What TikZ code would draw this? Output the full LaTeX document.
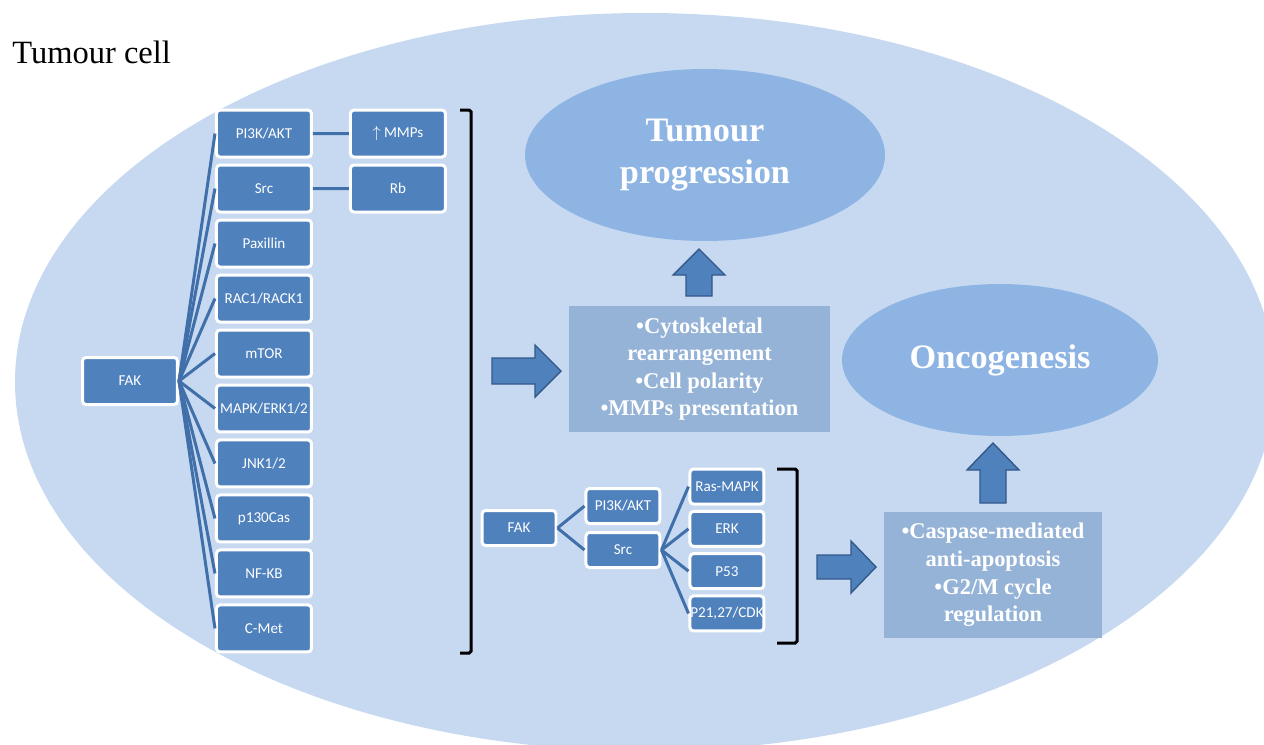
\documentclass[tikz,border=0pt]{standalone}
\usepackage{fontspec}
\setmainfont{Liberation Serif}
\newfontfamily\calib{Carlito}
\usetikzlibrary{trees,shapes.geometric}

\definecolor{cellbg}{HTML}{C6D9F1}
\definecolor{boxblue}{HTML}{4F81BD}
\definecolor{linkblue}{HTML}{406FA9}
\definecolor{effectblue}{HTML}{95B3D7}
\definecolor{outblue}{HTML}{8EB4E3}
\definecolor{arrowedge}{HTML}{33598A}

\begin{document}
\begin{tikzpicture}[x=0.02cm,y=-0.02cm,
  gene/.style={draw=white, line width=0.06cm, fill=boxblue, rounded corners=2pt,
    text=white, font=\calib\fontsize{8.6}{10}\selectfont,
    minimum width=1.9cm, minimum height=0.94cm, inner sep=0pt},
  smallgene/.style={gene, minimum width=1.48cm, minimum height=0.7cm},
  effect/.style={fill=effectblue, text=white, align=center, inner sep=0pt,
    font=\bfseries\fontsize{12.8}{15.7}\selectfont},
  outcome/.style={ellipse, fill=outblue, text=white, align=center, inner sep=0pt,
    font=\bfseries\fontsize{19.5}{23.8}\selectfont},
  fat/.style={fill=boxblue, draw=arrowedge, line width=0.8pt, line join=miter},
  bracket/.style={line width=0.06cm, rounded corners=1pt},
  edge from parent/.style={draw=linkblue, line width=0.06cm},
  edge from parent path={(\tikzparentnode.east) -- (\tikzchildnode.west)}]
  \useasboundingbox (0,0) rectangle (1264,744);
  \clip (0,0) rectangle (1264,744);

  % the cell
  \fill[cellbg] (645,382) ellipse [x radius=630, y radius=369];
  \node[anchor=base west, font=\fontsize{18.5}{22}\selectfont, inner sep=0pt] (title) at (12,63) {Tumour cell};

  % outcomes
  \node[outcome, minimum width=7.2cm, minimum height=3.44cm] (prog) at (705,155) {Tumour\\progression};
  \node[outcome, minimum width=6.32cm, minimum height=3.04cm] (onco) at (1000,360) {Oncogenesis};

  \node[effect, minimum width=5.22cm, minimum height=2.52cm] (cyto) at (699.5,369)
    {\textbullet Cytoskeletal\\rearrangement\\\textbullet Cell polarity\\\textbullet MMPs presentation};
  \node[effect, minimum width=4.36cm, minimum height=2.52cm] (casp) at (993,575)
    {\textbullet Caspase-mediated\\anti-apoptosis\\\textbullet G2/M cycle\\regulation};

  % block arrows
  \draw[fat] (492,358) -- (535,358) -- (535,345) -- (561,371) -- (535,397) -- (535,384) -- (492,384) -- cycle;
  \draw[fat] (817,555) -- (851,555) -- (851,541) -- (876,567) -- (851,593) -- (851,579) -- (817,579) -- cycle;
  \draw[fat] (686,296) -- (686,275) -- (673,275) -- (699,249) -- (725,275) -- (712,275) -- (712,296) -- cycle;
  \draw[fat] (980,503) -- (980,470) -- (967,470) -- (993,443) -- (1019,470) -- (1006,470) -- (1006,503) -- cycle;

  % FAK and its partners
  \node[gene] (fak) at (130,381) {FAK}
    [grow'=right, level distance=2.68cm, sibling distance=1.1cm]
    child { node[gene] (pik) {PI3K/AKT}
      child { node[gene] (mmp) {$\uparrow$ MMPs} } }
    child { node[gene] (src) {Src}
      child { node[gene] (rb) {Rb} } }
    child { node[gene] (pax) {Paxillin} }
    child { node[gene] (rac) {RAC1/RACK1} }
    child { node[gene] (mtor) {mTOR} }
    child { node[gene] (mapk) {MAPK/ERK1/2} }
    child { node[gene] (jnk) {JNK1/2} }
    child { node[gene] (cas) {p130Cas} }
    child { node[gene] (nfkb) {NF-KB} }
    child { node[gene] (cmet) {C-Met} };
  \draw[bracket] (460,110) -- (471,110) -- (471,653) -- (460,653);

  % FAK/Src branch
  \node[smallgene] (fakb) at (519,528) {FAK}
    [grow'=right, level distance=2.08cm,
     level 1/.style={sibling distance=0.88cm},
     level 2/.style={sibling distance=0.846cm}]
    child { node[smallgene] (pikb) {PI3K/AKT} }
    child { node[smallgene] (srcb) {Src}
      child { node[smallgene] (ras) {Ras-MAPK} }
      child { node[smallgene] (erk) {ERK} }
      child { node[smallgene] (p53) {P53} }
      child { node[smallgene] (p21) {P21,27/CDK} } };
  \draw[bracket] (777,469) -- (797,469) -- (797,643) -- (777,643);
\end{tikzpicture}
\end{document}
